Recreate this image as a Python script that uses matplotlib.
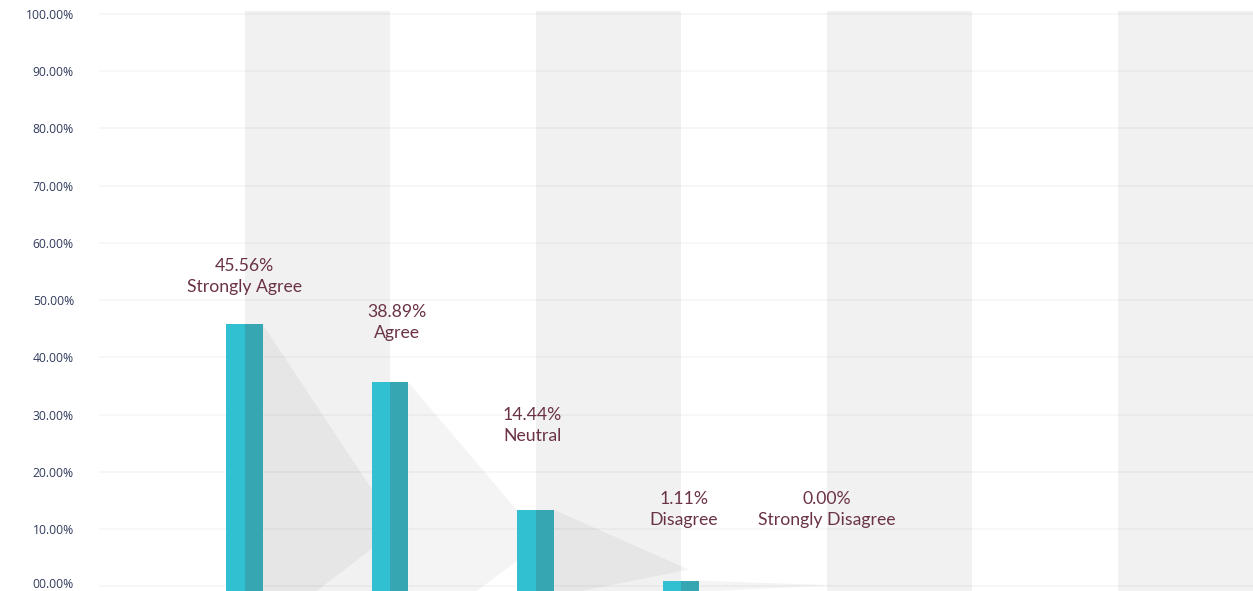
import matplotlib
matplotlib.use("Agg")
import matplotlib.pyplot as plt
import matplotlib.transforms as mtransforms
from matplotlib.patches import Polygon

# Data
categories = ["Strongly Agree", "Agree", "Neutral", "Disagree", "Strongly Disagree"]
pct_labels = [45.56, 38.89, 14.44, 1.11, 0.00]
bar_heights = [45.8, 35.7, 13.4, 1.0, 0.0]   # heights as drawn in the picture
yticks = [0, 10, 20, 30, 40, 50, 60, 70, 80, 90, 100]

# Layout (data units)
xpos = [1, 2, 3, 4, 5]
label_x = [1.0, 2.05, 2.98, 4.02, 5.0]
label_y = [54.1, 46.1, 28.1, 13.45, 13.45]
shadow_foot = [0.37, 0.47, 0.19, 0.10]

light = "#30c0d2"
dark = "#36a7b2"
text_col = "#6a3246"
tick_col = "#2f3b5c"

fig = plt.figure(figsize=(12.53, 5.91), dpi=100)
ax = fig.add_axes([99 / 1253, 0, (1263 - 99) / 1253, 580 / 591])
ax.set_xlim(0, 8)
ax.set_ylim(-0.79, 100.52)

# alternating column bands
for i in range(1, 8, 2):
    ax.axvspan(i, i + 1, color="#f1f1f1", lw=0, zorder=0)

# faint horizontal grid
for v in yticks:
    ax.axhline(v, color="black", alpha=0.035, lw=1.3, zorder=1)

# long shadows
bw = 0.125
bottom = -0.8
for i, (x, h) in enumerate(zip(xpos, bar_heights)):
    if h <= 0 or i >= len(shadow_foot):
        continue
    xr = x + bw
    pts = [(xr, h), (xr + 0.93, 0.22 * h), (xr + shadow_foot[i], bottom), (xr, bottom)]
    ax.add_patch(Polygon(pts, closed=True, facecolor="black", alpha=0.045, lw=0, zorder=2))

# two-tone bars (zero-height bars are not drawn)
bx = [x for x, h in zip(xpos, bar_heights) if h > 0]
bh = [h - bottom for h in bar_heights if h > 0]
ax.bar([x - bw / 2 for x in bx], bh, width=bw, bottom=bottom, color=light, lw=0, zorder=3)
ax.bar([x + bw / 2 for x in bx], bh, width=bw, bottom=bottom, color=dark, lw=0, zorder=3)

# labels
for x, y, p, c in zip(label_x, label_y, pct_labels, categories):
    ax.text(x, y, f"{p:.2f}%\n{c}", ha="center", va="center", multialignment="center",
            fontsize=12.7, family="Lato", color=text_col, linespacing=1.4, zorder=4)

ax.set_yticks(yticks)
ax.set_yticklabels([f"{v:05.2f}%" for v in yticks], family="Open Sans", fontsize=8.7,
                   color=tick_col)
ax.tick_params(axis="y", length=0, pad=18)
# lift the bottom tick label a little so it is not clipped at the figure edge
lbl0 = ax.get_yticklabels()[0]
lbl0.set_transform(lbl0.get_transform() +
                   mtransforms.ScaledTranslation(0, 3 / 100, fig.dpi_scale_trans))
ax.set_xticks([])
for s in ax.spines.values():
    s.set_visible(False)

fig.savefig("out.png", dpi=100, facecolor="white")
